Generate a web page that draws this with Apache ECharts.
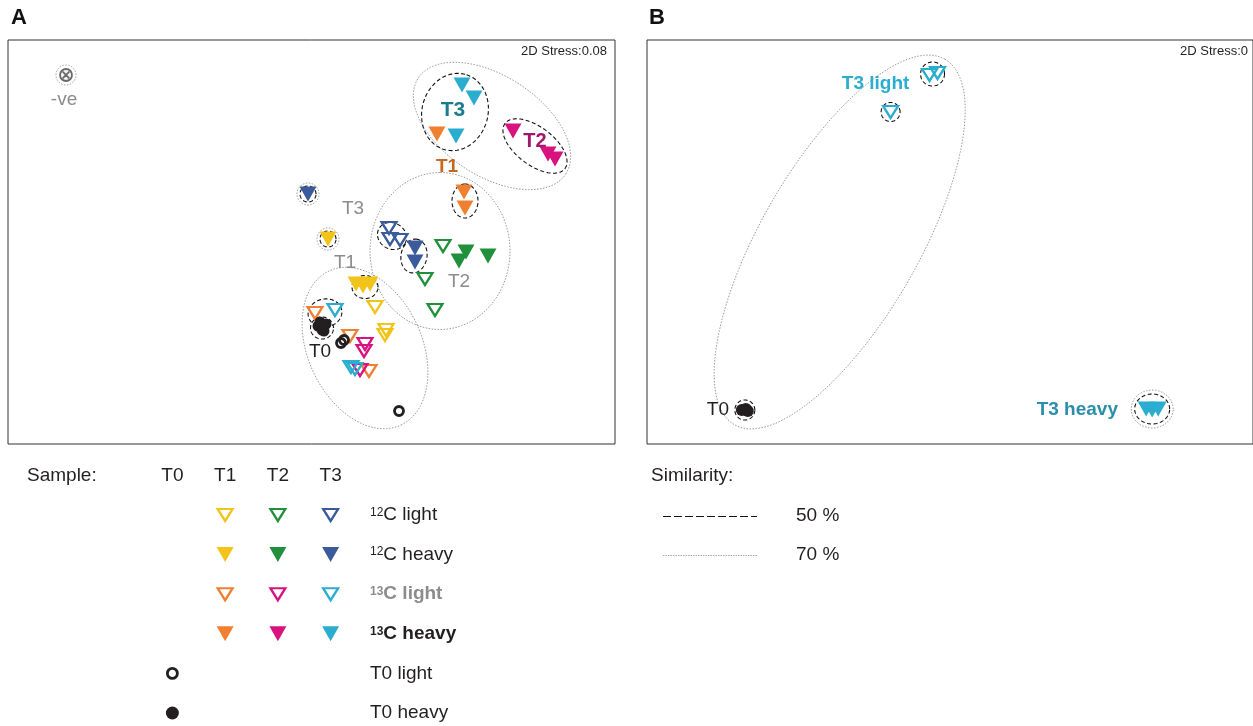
<!DOCTYPE html>
<html>
<head>
<meta charset="utf-8">
<script src="https://cdn.jsdelivr.net/npm/echarts@6/dist/echarts.min.js"></script>
<style>
html,body{margin:0;padding:0;background:#fff}
#chart{width:1253px;height:726px}
</style>
</head>
<body>
<div id="chart"></div>
<script>
// ---- NMDS scores, panel A (all fractions) : [dim1, dim2] ----
const A_T1_12C_light = [[3.67,1.37],[3.78,1.14],[3.77,1.09]];
const A_T1_12C_heavy = [[3.48,1.60],[3.55,1.58],[3.62,1.60],[3.20,2.05]];
const A_T2_12C_light = [[4.35,1.98],[4.17,1.65],[4.27,1.34]];
const A_T2_12C_heavy = [[4.58,1.92],[4.51,1.83],[4.80,1.88]];
const A_T3_12C_light = [[3.81,2.16],[3.82,2.05],[3.92,2.04]];
const A_T3_12C_heavy = [[4.07,1.96],[4.07,1.82],[3.00,2.50]];
const A_T1_13C_light = [[3.07,1.31],[3.42,1.08],[3.61,0.73]];
const A_T1_13C_heavy = [[4.56,2.52],[4.57,2.36],[4.29,3.10]];
const A_T2_13C_light = [[3.57,1.00],[3.56,0.93],[3.52,0.74]];
const A_T2_13C_heavy = [[5.05,3.13],[5.40,2.90],[5.47,2.85]];
const A_T3_13C_light = [[3.27,1.34],[3.43,0.77],[3.47,0.75]];
const A_T3_13C_heavy = [[4.54,3.59],[4.66,3.46],[4.48,3.08]];
const A_T0_light = [[3.33,1.01],[3.36,1.04],[3.91,0.33]];
const A_T0_heavy = [[3.10,1.18],[3.14,1.14],[3.18,1.20],[3.12,1.22],[3.16,1.13]];
const A_negative = [[0.58,3.69]];

// similarity contours: [centre1, centre2, semi-axis a, semi-axis b, angle of a in degrees]
const A_sim50 = [[4.47,3.32,0.39,0.33,75],[5.27,2.98,0.375,0.19,-37],[4.57,2.43,0.17,0.13,90],
                 [3.84,2.08,0.15,0.13,-30],[4.06,1.88,0.17,0.13,80],[3.57,1.57,0.13,0.115,0],
                 [3.17,1.31,0.17,0.14,10],[3.14,1.16,0.115,0.11,0],[3.00,2.50,0.08,0.08,0],
                 [3.20,2.05,0.08,0.08,0]];
const A_sim70 = [[4.84,3.18,0.88,0.50,-33],[4.32,1.93,0.785,0.70,90],[3.57,0.96,0.85,0.57,-65],
                 [3.00,2.50,0.11,0.11,0],[3.20,2.05,0.11,0.11,0],[0.58,3.69,0.10,0.10,0]];

// group labels: [text, dim1, dim2, style]
const A_labels = [['-ve',0.56,3.44,'grey'],['T3',3.45,2.35,'grey'],['T1',3.37,1.81,'grey'],
                  ['T2',4.51,1.62,'grey'],['T1',4.39,2.77,'t1'],['T3',4.45,3.34,'t3'],
                  ['T2',5.27,3.03,'t2'],['T0',3.12,0.92,'t0']];

// ---- NMDS scores, panel B (T3 13C vs T0) ----
const B_T3_13C_light = [[2.83,3.69],[2.91,3.71],[2.44,3.32]];
const B_T3_13C_heavy = [[5.00,0.35],[5.06,0.34],[5.12,0.35]];
const B_T0_heavy = [[0.95,0.34],[0.99,0.35],[1.01,0.33]];
const B_sim50 = [[2.86,3.70,0.12,0.12,0],[2.44,3.32,0.095,0.095,0],[5.06,0.35,0.175,0.15,0],[0.98,0.34,0.10,0.10,0]];
const B_sim70 = [[1.93,2.02,2.11,0.79,60],[5.06,0.35,0.21,0.19,0]];
const B_labels = [['T3 light',2.29,3.60,'t3light'],['T3 heavy',4.31,0.34,'t3heavy'],['T0',0.71,0.34,'t0']];

const stressA = '2D Stress:0.08';
const stressB = '2D Stress:0';

// ---- key ----
const keyCols = ['T0','T1','T2','T3'];
const keyRows = ['12C light','12C heavy','13C light','13C heavy','T0 light','T0 heavy'];

// ---- styles ----
const FONT = 'Liberation Sans, Arial, sans-serif';
const INK = '#231f20';
const groupStyle = {
  T1_12C_light:{color:'#f2c318',hollow:true, col:1,row:0},
  T2_12C_light:{color:'#21903c',hollow:true, col:2,row:0},
  T3_12C_light:{color:'#3a5a9b',hollow:true, col:3,row:0},
  T1_12C_heavy:{color:'#f2c318',hollow:false,col:1,row:1},
  T2_12C_heavy:{color:'#21903c',hollow:false,col:2,row:1},
  T3_12C_heavy:{color:'#3a5a9b',hollow:false,col:3,row:1},
  T1_13C_light:{color:'#f08030',hollow:true, col:1,row:2},
  T2_13C_light:{color:'#d8127f',hollow:true, col:2,row:2},
  T3_13C_light:{color:'#2badcf',hollow:true, col:3,row:2},
  T1_13C_heavy:{color:'#f08030',hollow:false,col:1,row:3},
  T2_13C_heavy:{color:'#d8127f',hollow:false,col:2,row:3},
  T3_13C_heavy:{color:'#2badcf',hollow:false,col:3,row:3}
};
const labelStyle = {
  grey:{color:'#8c8c8c',fontWeight:'normal',fontSize:19},
  t0:{color:INK,fontWeight:'normal',fontSize:19},
  t1:{color:'#c8671f',fontWeight:'bold',fontSize:19},
  t2:{color:'#a0176b',fontWeight:'bold',fontSize:20},
  t3:{color:'#1d7b8f',fontWeight:'bold',fontSize:21},
  t3light:{color:'#2badcf',fontWeight:'bold',fontSize:19},
  t3heavy:{color:'#2a8eab',fontWeight:'bold',fontSize:19}
};

function triSeries(key, data, grid) {
  const s = groupStyle[key];
  return {
    type:'scatter', name:key, xAxisIndex:grid, yAxisIndex:grid, data:data, z:4,
    symbol:'triangle', symbolRotate:180,
    symbolSize: s.hollow ? [15,12] : [17,15],
    itemStyle: s.hollow ? {color:'rgba(255,255,255,0)',borderColor:s.color,borderWidth:2.2,opacity:1}
                        : {color:s.color,opacity:1},
    emphasis:{disabled:true}, silent:true
  };
}
function dotSeries(data, grid, hollow, size) {
  return {
    type:'scatter', xAxisIndex:grid, yAxisIndex:grid, data:data, z:4, symbol:'circle',
    symbolSize: size,
    itemStyle: hollow ? {color:'rgba(255,255,255,0)',borderColor:INK,borderWidth:2.8,opacity:1}
                      : {color:INK,opacity:1},
    emphasis:{disabled:true}, silent:true
  };
}
function contourSeries(rows, grid, level) {
  const stroke = level === 50 ? {stroke:'#111',lineDash:[4,2.5],lineWidth:1.1}
                              : {stroke:'#999',lineDash:[1.5,1.5],lineWidth:1};
  return {
    type:'custom', coordinateSystem:'cartesian2d', xAxisIndex:grid, yAxisIndex:grid,
    data:rows, z:2, silent:true, clip:false,
    renderItem(params, api) {
      const cx = api.value(0), cy = api.value(1), a = api.value(2), b = api.value(3);
      const ang = api.value(4) * Math.PI / 180;
      const pts = [];
      for (let k = 0; k < 120; k++) {
        const t = k / 120 * Math.PI * 2;
        const ex = a * Math.cos(t), ey = b * Math.sin(t);
        pts.push(api.coord([cx + ex*Math.cos(ang) - ey*Math.sin(ang),
                            cy + ex*Math.sin(ang) + ey*Math.cos(ang)]));
      }
      return {type:'polygon', shape:{points:pts}, style:Object.assign({fill:'none'}, stroke)};
    }
  };
}
function labelSeries(rows, grid) {
  return {
    type:'scatter', xAxisIndex:grid, yAxisIndex:grid, symbolSize:0, z:5, silent:true,
    itemStyle:{opacity:1},
    data: rows.map(r => ({name:r[0], value:[r[1], r[2]],
      label:Object.assign({fontFamily:FONT, opacity:1}, labelStyle[r[3]])})),
    label:{show:true, position:'inside', formatter:p => p.name, align:'center', verticalAlign:'middle'}
  };
}

const series = [
  contourSeries(A_sim70, 0, 70), contourSeries(A_sim50, 0, 50),
  contourSeries(B_sim70, 1, 70), contourSeries(B_sim50, 1, 50),
  triSeries('T1_12C_light', A_T1_12C_light, 0), triSeries('T1_12C_heavy', A_T1_12C_heavy, 0),
  triSeries('T2_12C_light', A_T2_12C_light, 0), triSeries('T2_12C_heavy', A_T2_12C_heavy, 0),
  triSeries('T3_12C_light', A_T3_12C_light, 0), triSeries('T3_12C_heavy', A_T3_12C_heavy, 0),
  triSeries('T1_13C_light', A_T1_13C_light, 0), triSeries('T1_13C_heavy', A_T1_13C_heavy, 0),
  triSeries('T2_13C_light', A_T2_13C_light, 0), triSeries('T2_13C_heavy', A_T2_13C_heavy, 0),
  triSeries('T3_13C_light', A_T3_13C_light, 0), triSeries('T3_13C_heavy', A_T3_13C_heavy, 0),
  dotSeries(A_T0_light, 0, true, 9), dotSeries(A_T0_heavy, 0, false, 11),
  {
    type:'scatter', xAxisIndex:0, yAxisIndex:0, data:A_negative, z:4, silent:true,
    symbol:'path://M10,0A10,10,0,1,1,10,20A10,10,0,1,1,10,0ZM4.5,4.5L15.5,15.5M15.5,4.5L4.5,15.5',
    symbolSize:12, itemStyle:{color:'#f4f4f4',borderColor:'#6a6a6a',borderWidth:1.8,opacity:1}
  },
  labelSeries(A_labels, 0),
  triSeries('T3_13C_light', B_T3_13C_light, 1), triSeries('T3_13C_heavy', B_T3_13C_heavy, 1),
  dotSeries(B_T0_heavy, 1, false, 12),
  labelSeries(B_labels, 1)
];

// key symbols, drawn in their own small grid
Object.keys(groupStyle).forEach(k => {
  const s = groupStyle[k];
  series.push(triSeries(k, [[s.col, s.row]], 2));
});
series.push(dotSeries([[0, 4]], 2, true, 10));
series.push(dotSeries([[0, 5]], 2, false, 13));

const rowRich = {
  '12C light':'{sup|12}{reg|C light}', '12C heavy':'{sup|12}{reg|C heavy}',
  '13C light':'{supG|13}{grey|C light}', '13C heavy':'{supB|13}{bold|C heavy}',
  'T0 light':'{reg|T0 light}', 'T0 heavy':'{reg|T0 heavy}'
};

const valueAxis = (grid, max) => ({type:'value', gridIndex:grid, min:0, max:max, show:false});

const option = {
  animation:false,
  backgroundColor:'#fff',
  textStyle:{fontFamily:FONT},
  grid:[
    {left:8, top:40, width:607, height:404, show:true, borderColor:'#333', borderWidth:1, backgroundColor:'transparent'},
    {left:647, top:40, width:607, height:404, show:true, borderColor:'#333', borderWidth:1, backgroundColor:'transparent'},
    {left:146, top:515, width:211, height:198}
  ],
  xAxis:[
    valueAxis(0, 6.07), valueAxis(1, 6.07),
    {type:'category', gridIndex:2, data:keyCols, position:'top', boundaryGap:true,
     axisLine:{show:false}, axisTick:{show:false}, splitLine:{show:false},
     axisLabel:{fontSize:19, color:INK, margin:30, fontFamily:FONT}}
  ],
  yAxis:[
    valueAxis(0, 4.04), valueAxis(1, 4.04),
    {type:'category', gridIndex:2, data:keyRows, inverse:true, position:'right', boundaryGap:false,
     axisLine:{show:false}, axisTick:{show:false}, splitLine:{show:false},
     axisLabel:{margin:13, align:'left', formatter:v => rowRich[v],
       rich:{
         sup:{fontSize:12, color:INK, verticalAlign:'top', padding:[1,0,0,0], fontFamily:FONT},
         reg:{fontSize:19, color:INK, fontFamily:FONT},
         supG:{fontSize:12, color:'#8c8c8c', fontWeight:'bold', verticalAlign:'top', padding:[1,0,0,0], fontFamily:FONT},
         grey:{fontSize:19, color:'#8c8c8c', fontWeight:'bold', fontFamily:FONT},
         supB:{fontSize:12, color:INK, fontWeight:'bold', verticalAlign:'top', padding:[1,0,0,0], fontFamily:FONT},
         bold:{fontSize:19, color:INK, fontWeight:'bold', fontFamily:FONT}
       }}}
  ],
  graphic:[
    {type:'text', left:11, top:7, style:{text:'A', font:'bold 22px '+FONT, fill:'#111'}},
    {type:'text', left:649, top:7, style:{text:'B', font:'bold 22px '+FONT, fill:'#111'}},
    {type:'text', x:607, y:51, style:{text:stressA, font:'13px '+FONT, fill:INK, align:'right', verticalAlign:'middle'}},
    {type:'text', x:1248, y:51, style:{text:stressB, font:'13px '+FONT, fill:INK, align:'right', verticalAlign:'middle'}},
    {type:'text', x:27, y:476, style:{text:'Sample:', font:'19px '+FONT, fill:INK, verticalAlign:'middle'}},
    {type:'text', x:651, y:476, style:{text:'Similarity:', font:'19px '+FONT, fill:INK, verticalAlign:'middle'}},
    {type:'line', shape:{x1:663, y1:516.5, x2:757, y2:516.5}, style:{stroke:'#111', lineWidth:1, lineDash:[8,3]}},
    {type:'line', shape:{x1:663, y1:555.5, x2:757, y2:555.5}, style:{stroke:'#aaa', lineWidth:1, lineDash:[1.5,1]}},
    {type:'text', x:796, y:516, style:{text:'50 %', font:'19px '+FONT, fill:INK, verticalAlign:'middle'}},
    {type:'text', x:796, y:555, style:{text:'70 %', font:'19px '+FONT, fill:INK, verticalAlign:'middle'}}
  ],
  series:series
};

const chart = echarts.init(document.getElementById('chart'), null, {renderer:'canvas'});
chart.setOption(option);
</script>
</body>
</html>
